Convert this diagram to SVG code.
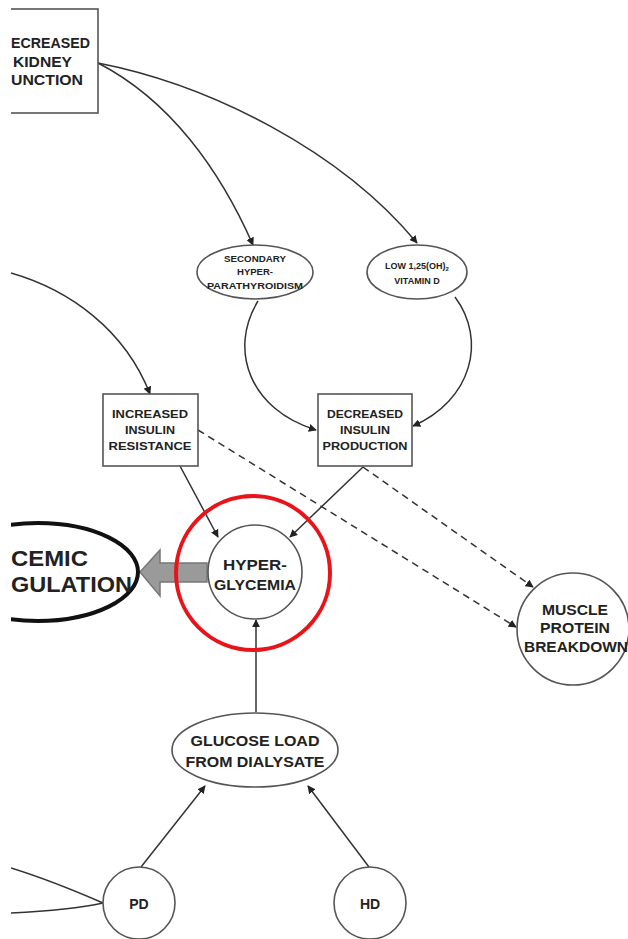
<svg xmlns="http://www.w3.org/2000/svg" width="628" height="939" viewBox="0 0 628 939">
<defs>
<clipPath id="vis"><rect x="11" y="0" width="617" height="939"/></clipPath>
<marker id="ah" viewBox="0 0 10 10" refX="9" refY="5" markerWidth="8" markerHeight="8" markerUnits="userSpaceOnUse" orient="auto"><path d="M0,0 L10,5 L0,10 z" fill="#222"/></marker>
</defs>
<style>
.node{fill:#fff;stroke:#555;stroke-width:1.6}
.t{font-family:"Liberation Sans",Arial,sans-serif;font-weight:bold;fill:#222;text-anchor:middle}
.s{text-anchor:start}
.c{fill:none;stroke:#333;stroke-width:1.5}
.d{fill:none;stroke:#333;stroke-width:1.5;stroke-dasharray:7,5}
</style>
<rect width="628" height="939" fill="#fff"/>
<g clip-path="url(#vis)">
<g id="connectors">
<path class="c" d="M98,63 C170,100 220,170 253,245" marker-end="url(#ah)"/>
<path class="c" d="M98,63 C210,85 340,150 417,243" marker-end="url(#ah)"/>
<path class="c" d="M11,273 C70,290 125,330 150,394" marker-end="url(#ah)"/>
<path class="c" d="M258,301 C228,350 250,410 316,430" marker-end="url(#ah)"/>
<path class="c" d="M455,297 C487,340 472,400 413,426" marker-end="url(#ah)"/>
<path class="c" d="M180,466 L218,537" marker-end="url(#ah)"/>
<path class="c" d="M363,467 L290,537" marker-end="url(#ah)"/>
<path class="d" d="M363,467 L533,587" marker-end="url(#ah)"/>
<path class="d" d="M198,430 L516,627" marker-end="url(#ah)"/>
<path class="c" d="M256,712 L256,620" marker-end="url(#ah)"/>
<path class="c" d="M141,867 L205,786" marker-end="url(#ah)"/>
<path class="c" d="M369,867 L308,786" marker-end="url(#ah)"/>
<path class="c" d="M11,868 C50,880 80,893 103,903"/>
<path class="c" d="M11,913 C50,911 80,908 103,903"/>
<path d="M207,563 L160,563 L160,550 L140,572 L160,596 L160,582 L207,582 z" fill="#9a9a9a" stroke="#777" stroke-width="1.5"/>
</g>
<g id="kidney">
<rect class="node" x="-20" y="9" width="118" height="104"/>
<text class="t s" x="11" y="48" font-size="15" textLength="79" lengthAdjust="spacingAndGlyphs">ECREASED</text>
<text class="t s" x="13" y="67" font-size="15" textLength="59" lengthAdjust="spacingAndGlyphs">KIDNEY</text>
<text class="t s" x="11" y="85" font-size="15" textLength="72" lengthAdjust="spacingAndGlyphs">UNCTION</text>
</g>
<g id="secondary">
<ellipse class="node" cx="255" cy="272" rx="58" ry="27"/>
<text class="t" x="255" y="262" font-size="9" textLength="62" lengthAdjust="spacingAndGlyphs">SECONDARY</text>
<text class="t" x="255" y="275" font-size="9" textLength="36" lengthAdjust="spacingAndGlyphs">HYPER-</text>
<text class="t" x="255" y="289" font-size="9.5" textLength="96" lengthAdjust="spacingAndGlyphs">PARATHYROIDISM</text>
</g>
<g id="vitd">
<ellipse class="node" cx="417" cy="272" rx="50" ry="27"/>
<text class="t" x="417" y="269" font-size="9">LOW 1,25(OH)<tspan font-size="6" dy="2">2</tspan></text>
<text class="t" x="417" y="284" font-size="9">VITAMIN D</text>
</g>
<g id="resistance">
<rect class="node" x="103" y="394" width="95" height="72"/>
<text class="t" x="150" y="418" font-size="11.5" textLength="76" lengthAdjust="spacingAndGlyphs">INCREASED</text>
<text class="t" x="150" y="434" font-size="11.5" textLength="50" lengthAdjust="spacingAndGlyphs">INSULIN</text>
<text class="t" x="150" y="450" font-size="11.5" textLength="83" lengthAdjust="spacingAndGlyphs">RESISTANCE</text>
</g>
<g id="production">
<rect class="node" x="318" y="394" width="94" height="72"/>
<text class="t" x="365" y="418" font-size="11.5" textLength="76" lengthAdjust="spacingAndGlyphs">DECREASED</text>
<text class="t" x="365" y="434" font-size="11.5" textLength="50" lengthAdjust="spacingAndGlyphs">INSULIN</text>
<text class="t" x="365" y="450" font-size="11.5" textLength="85" lengthAdjust="spacingAndGlyphs">PRODUCTION</text>
</g>
<g id="glycemic">
<ellipse cx="38" cy="572" rx="100" ry="49" fill="#fff" stroke="#111" stroke-width="4"/>
<text class="t s" x="11" y="566" font-size="22" textLength="77" lengthAdjust="spacingAndGlyphs">CEMIC</text>
<text class="t s" x="11" y="592" font-size="22" textLength="121" lengthAdjust="spacingAndGlyphs">GULATION</text>
</g>
<g id="hyperglycemia">
<circle class="node" cx="255" cy="572" r="47"/>
<text class="t" x="255" y="570" font-size="14" textLength="64" lengthAdjust="spacingAndGlyphs">HYPER-</text>
<text class="t" x="255" y="590" font-size="14" textLength="82" lengthAdjust="spacingAndGlyphs">GLYCEMIA</text>
<circle cx="253" cy="573" r="77" fill="none" stroke="#e8141a" stroke-width="4"/>
</g>
<g id="muscle">
<circle class="node" cx="573" cy="629" r="56"/>
<text class="t" x="575" y="615" font-size="14.5" textLength="66" lengthAdjust="spacingAndGlyphs">MUSCLE</text>
<text class="t" x="575" y="633" font-size="14.5" textLength="70" lengthAdjust="spacingAndGlyphs">PROTEIN</text>
<text class="t" x="576" y="652" font-size="14.5" textLength="104" lengthAdjust="spacingAndGlyphs">BREAKDOWN</text>
</g>
<g id="glucose">
<ellipse class="node" cx="255" cy="750" rx="83" ry="37"/>
<text class="t" x="255" y="746" font-size="15" textLength="129" lengthAdjust="spacingAndGlyphs">GLUCOSE LOAD</text>
<text class="t" x="255" y="767" font-size="15" textLength="139" lengthAdjust="spacingAndGlyphs">FROM DIALYSATE</text>
</g>
<g id="pd">
<circle class="node" cx="139" cy="903" r="36"/>
<text class="t" x="139" y="909" font-size="14">PD</text>
</g>
<g id="hd">
<circle class="node" cx="370" cy="903" r="36"/>
<text class="t" x="370" y="909" font-size="14">HD</text>
</g>
</g>
</svg>
